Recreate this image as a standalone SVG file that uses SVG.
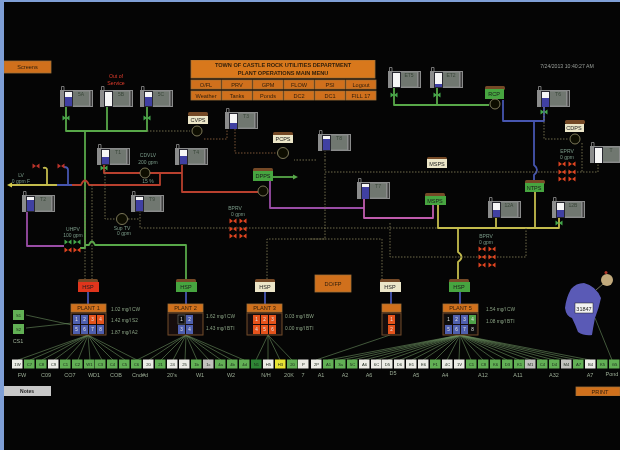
<svg xmlns="http://www.w3.org/2000/svg" width="620" height="450" viewBox="0 0 620 450">
<style>
text{font-family:"Liberation Sans",Arial,sans-serif}
.p{fill:none;stroke-width:1.8;stroke-linejoin:round}
.gr{stroke:#58a84a}.re{stroke:#b8402e}.pu{stroke:#9a4ea6}.ye{stroke:#c4bc4e}.bl{stroke:#4656b0}.pk{stroke:#c05cae}
.d{fill:none;stroke:#7d7952;stroke-width:.9;stroke-dasharray:1.5 1.5}
.dr{fill:none;stroke:#7a5436;stroke-width:1;stroke-dasharray:1.5 1.5}
.f{stroke:#6c9160;stroke-width:.6;fill:none}
.t{fill:#8b8c8c}.w{fill:#f6f6f6}.b{fill:#3f41a2}
.tl{font-size:5px;fill:#3a463a;text-anchor:middle}
.pg{fill:#46a53f}.pc{fill:#ece6c8}.pr{fill:#e0361e}.cap{fill:#744a28}
.pl{font-size:5.500px;fill:#1c1c1c;text-anchor:middle}
.or{fill:#d0701c;stroke:#a07038;stroke-width:.8}
.ol{font-size:5.600px;fill:#33200a;text-anchor:middle}
.lb{font-size:5px;fill:#7a9a88;text-anchor:middle}
.ml{font-size:4.800px;fill:#8aa284}
.bt{font-size:5.500px;fill:#9aab94;text-anchor:middle}
.sg{fill:#62b054}.sw{fill:#ecece6}.sd{fill:#2e8434}.sy{fill:#e8e434}.sq{fill:#c2c2be}
.st{font-size:4.200px;fill:#1d2a1d;text-anchor:middle}
.vr{fill:#de4420}.vg{fill:#45a84b}.vx{fill:#bc342a}
.c{fill:#0a0a05;stroke:#8a8660;stroke-width:.9}
.cell{font-size:4.600px;fill:#e2e2e2;text-anchor:middle}
.cb{fill:#505fae}.co{fill:#e5521c}.cg{fill:#4fa24a}.ck{fill:#0b0b0b}
.fr{fill:#15100c;stroke:#744a2a;stroke-width:1}
</style>
<defs>
<filter id="soft" x="0" y="0" width="100%" height="100%"><feGaussianBlur stdDeviation="0.45"/></filter>
<g id="tk"><path d="M1.500 0V-3.500h2.500v3.500" fill="none" stroke="#a0a0a0" stroke-width=".7"/><rect width="33" height="17" class="t"/><rect x="13" y="1.500" width="16" height="14" fill="#6f776f"/><rect x="30.500" y="1" width="1.500" height="15" fill="#3c3c3c"/><rect x="4" y="1" width="9" height="16" fill="#26262e"/></g>
<g id="vv"><path d="M-3.500 -2.500L0 0L-3.500 2.500ZM3.500 -2.500L0 0L3.500 2.500Z"/></g>
<g id="cap"><rect width="20" height="4" rx="1.500" class="cap"/></g>
</defs>
<rect width="620" height="450" fill="#050505"/>
<rect width="620" height="2" fill="#7f9fd6"/>
<rect width="4" height="450" fill="#7f9fd6"/>
<g filter="url(#soft)">
<g id="connectors">
<path class="p gr" d="M66 106V131H147V106M107 106V131M85 131V248H80"/>
<path class="p gr" d="M85 245H89Q92 238 95 245H186V279"/>
<path class="p gr" d="M394 87V105H489M437 87V105"/>
<path class="p gr" d="M273 177H294"/>
<path d="M293 174.500L298 177L293 179.500Z" fill="#58a84a"/>
<path class="p re" d="M104 164V173H182M182 164V192H258M160 173V185H89Q85 176 81 185H72"/>
<path class="p bl" d="M57 185H72M68 185V170Q68 167 64 167"/>
<path class="p ye" d="M11 185H57M47 185V170Q47 167 43 168"/>
<path d="M12 182.500L7 185L12 187.500Z" fill="#d4cb4c"/>
<path class="p pu" d="M270 181V208H364M27 211V246H64"/>
<path class="p pk" d="M364 199V218H433V205"/>
<path class="p ye" d="M438 205V228H559V217M496 217V228M535 192V228M458 228V252Q465 257 458 262V279"/>
<path class="p bl" d="M503 100V121H544V107M534 121V165Q540 170 534 175V180"/>
<path class="p bl" d="M88 292V304M186 292V304M265 292V304M391 292V304M460 292V304"/>
<path class="d" d="M147 131H190M85 185V279M92 185V279M267 279V239H325V172M325 160V172H598V163M310 239H382V279M140 211V228H437M390 223V257H526V228M544 107V139H569M582 143V172M105 164V219H115M128 219H140M316 160H294"/>
<path class="d" d="M325 150V160"/>
<path class="dr" d="M204 139H227V129M235 129V153H277"/>
<path class="f" d="M88 335L18 360M88 335L30 360M88 335L42 360M88 335L54 360M88 335L66 360M88 335L78 360M88 335L90 360M88 335L102 360M88 335L113 360M88 335L125 360M88 335L137 360"/>
<path class="f" d="M186 335L137 360M186 335L149 360M186 335L161 360M186 335L173 360M186 335L185 360M186 335L197 360M186 335L209 360M186 335L221 360M186 335L232 360M186 335L244 360"/>
<path class="f" d="M268 335L256 360M268 335L268 360M268 335L280 360M268 335L292 360"/>
<path class="f" d="M390 335L316 360"/>
<path class="f" d="M460 335L328 360M460 335L340 360M460 335L352 360M460 335L364 360M460 335L376 360M460 335L388 360M460 335L400 360M460 335L412 360M460 335L423 360M460 335L435 360M460 335L447 360M460 335L459 360M460 335L471 360M460 335L483 360M460 335L495 360M460 335L507 360M460 335L519 360M460 335L531 360M460 335L542 360M460 335L554 360M460 335L566 360M460 335L578 360M460 335L590 360M595 318L612 360"/>
<path class="f" d="M26 315L72 325M26 328L72 323"/>
</g>

<g id="screens"><rect x="4" y="61" width="47" height="12" class="or"/><text x="27.500" y="69" class="ol">Screens</text></g>
<g id="menu">
<rect x="191" y="60" width="184" height="18" fill="#d8781e" stroke="#a07038" stroke-width=".8"/>
<text x="283" y="67" class="ol" font-weight="bold">TOWN OF CASTLE ROCK UTILITIES DEPARTMENT</text>
<text x="283" y="75" class="ol" font-weight="bold">PLANT OPERATIONS MAIN MENU</text>
<rect x="191" y="80" width="30" height="9" class="or"/><text x="206" y="87" class="ol">O/FL</text>
<rect x="222" y="80" width="30" height="9" class="or"/><text x="237" y="87" class="ol">PRV</text>
<rect x="253" y="80" width="30" height="9" class="or"/><text x="268" y="87" class="ol">GPM</text>
<rect x="284" y="80" width="30" height="9" class="or"/><text x="299" y="87" class="ol">FLOW</text>
<rect x="315" y="80" width="30" height="9" class="or"/><text x="330" y="87" class="ol">PSI</text>
<rect x="346" y="80" width="30" height="9" class="or"/><text x="361" y="87" class="ol">Logout</text>
<rect x="191" y="91" width="30" height="9" class="or"/><text x="206" y="98" class="ol">Weather</text>
<rect x="222" y="91" width="30" height="9" class="or"/><text x="237" y="98" class="ol">Tanks</text>
<rect x="253" y="91" width="30" height="9" class="or"/><text x="268" y="98" class="ol">Ponds</text>
<rect x="284" y="91" width="30" height="9" class="or"/><text x="299" y="98" class="ol">DC2</text>
<rect x="315" y="91" width="30" height="9" class="or"/><text x="330" y="98" class="ol">DC1</text>
<rect x="346" y="91" width="30" height="9" class="or"/><text x="361" y="98" class="ol">FILL 17</text>
</g>
<text x="567" y="68" font-size="5.200" fill="#9a9f9a" text-anchor="middle">7/24/2013 10:40:27 AM</text>
<text x="116" y="78" font-size="5.200" fill="#e03c2c" text-anchor="middle">Out of</text>
<text x="116" y="85" font-size="5.200" fill="#e03c2c" text-anchor="middle">Service</text>

<g id="t5a"><use href="#tk" x="60" y="90"/><rect x="65" y="92" width="7" height="5" class="w"/><rect x="65" y="97" width="7" height="9" class="b"/><text x="81" y="96" class="tl">5A</text></g>
<g id="t5b"><use href="#tk" x="100" y="90"/><rect x="105" y="92" width="7" height="14" class="w"/><text x="121" y="96" class="tl">5B</text></g>
<g id="t5c"><use href="#tk" x="140" y="90"/><rect x="145" y="92" width="7" height="5" class="w"/><rect x="145" y="97" width="7" height="9" class="b"/><text x="161" y="96" class="tl">5C</text></g>
<g id="t1"><use href="#tk" x="97" y="148"/><rect x="102" y="150" width="7" height="7" class="w"/><rect x="102" y="157" width="7" height="7" class="b"/><text x="118" y="154" class="tl">T1</text></g>
<g id="t4"><use href="#tk" x="175" y="148"/><rect x="180" y="150" width="7" height="6" class="w"/><rect x="180" y="156" width="7" height="8" class="b"/><text x="196" y="154" class="tl">T4</text></g>
<g id="t3"><use href="#tk" x="225" y="112"/><rect x="230" y="114" width="7" height="9" class="w"/><rect x="230" y="123" width="7" height="6" class="b"/><text x="246" y="118" class="tl">T3</text></g>
<g id="t2"><use href="#tk" x="22" y="195"/><rect x="27" y="197" width="7" height="3" class="w"/><rect x="27" y="200" width="7" height="11" class="b"/><text x="43" y="201" class="tl">T2</text></g>
<g id="t9"><use href="#tk" x="131" y="195"/><rect x="136" y="197" width="7" height="3" class="w"/><rect x="136" y="200" width="7" height="11" class="b"/><text x="152" y="201" class="tl">T9</text></g>
<g id="et5"><use href="#tk" x="388" y="71"/><rect x="393" y="73" width="7" height="14" class="w"/><text x="409" y="77" class="tl">ET5</text></g>
<g id="et2"><use href="#tk" x="430" y="71"/><rect x="435" y="73" width="7" height="11" class="w"/><rect x="435" y="84" width="7" height="3" class="b"/><text x="451" y="77" class="tl">ET2</text></g>
<g id="t6"><use href="#tk" x="537" y="90"/><rect x="542" y="92" width="7" height="6" class="w"/><rect x="542" y="98" width="7" height="9" class="b"/><text x="558" y="96" class="tl">T6</text></g>
<g id="t8"><use href="#tk" x="318" y="134"/><rect x="323" y="136" width="7" height="3" class="w"/><rect x="323" y="139" width="7" height="11" class="b"/><text x="339" y="140" class="tl">T8</text></g>
<g id="t10"><use href="#tk" x="590" y="146"/><rect x="595" y="148" width="7" height="15" class="w"/><text x="611" y="152" class="tl">T</text></g>
<g id="t7"><use href="#tk" x="357" y="182"/><rect x="362" y="184" width="7" height="3" class="w"/><rect x="362" y="187" width="7" height="12" class="b"/><text x="378" y="188" class="tl">T7</text></g>
<g id="t12a"><use href="#tk" x="488" y="201"/><rect x="493" y="203" width="7" height="7" class="w"/><rect x="493" y="210" width="7" height="7" class="b"/><text x="509" y="207" class="tl">12A</text></g>
<g id="t12b"><use href="#tk" x="552" y="201"/><rect x="557" y="203" width="7" height="7" class="w"/><rect x="557" y="210" width="7" height="7" class="b"/><text x="573" y="207" class="tl">12B</text></g>

<g id="cvps"><use href="#cap" x="188" y="112"/><rect x="188" y="116" width="20" height="8" class="pc"/><text x="198" y="122" class="pl">CVPS</text><circle cx="197" cy="131" r="5" class="c"/></g>
<g id="pcps"><use href="#cap" x="273" y="132"/><rect x="273" y="135" width="20" height="8" class="pc"/><text x="283" y="141" class="pl">PCPS</text><circle cx="283" cy="153" r="5.500" class="c"/></g>
<g id="msps"><use href="#cap" x="427" y="157"/><rect x="427" y="159" width="20" height="9" class="pc"/><text x="437" y="166" class="pl">MSPS</text></g>
<g id="cdps"><use href="#cap" x="565" y="120"/><rect x="565" y="124" width="19" height="8" class="pc"/><text x="574" y="130" class="pl">CDPS</text><circle cx="575" cy="139" r="5" class="c"/></g>
<g id="dpps"><use href="#cap" x="253" y="168"/><rect x="253" y="171" width="20" height="10" class="pg"/><text x="263" y="178" class="pl">DPPS</text><circle cx="263" cy="191" r="5" class="c"/></g>
<g id="rcp"><use href="#cap" x="485" y="86"/><rect x="485" y="89" width="19" height="10" class="pg"/><text x="494" y="96" class="pl">RCP</text><circle cx="495" cy="104" r="5" class="c"/></g>
<g id="ntps"><use href="#cap" x="525" y="180"/><rect x="525" y="183" width="19" height="9" class="pg"/><text x="534" y="190" class="pl">NTPS</text></g>
<g id="msps2"><use href="#cap" x="425" y="193"/><rect x="425" y="196" width="21" height="9" class="pg"/><text x="435" y="203" class="pl">MSPS</text></g>
<g id="hsp1"><use href="#cap" x="78" y="279"/><rect x="78" y="282" width="21" height="10" class="pr"/><text x="88" y="289" class="pl">HSP</text></g>
<g id="hsp2"><use href="#cap" x="176" y="279"/><rect x="176" y="282" width="21" height="10" class="pg"/><text x="186" y="289" class="pl">HSP</text></g>
<g id="hsp3"><use href="#cap" x="255" y="279"/><rect x="255" y="282" width="20" height="10" class="pc"/><text x="265" y="289" class="pl">HSP</text></g>
<g id="hsp4"><use href="#cap" x="380" y="279"/><rect x="380" y="282" width="21" height="10" class="pc"/><text x="390" y="289" class="pl">HSP</text></g>
<g id="hsp5"><use href="#cap" x="449" y="279"/><rect x="449" y="282" width="21" height="10" class="pg"/><text x="459" y="289" class="pl">HSP</text></g>
<g id="dofp"><rect x="315" y="275" width="36" height="17" class="or"/><text x="333" y="286" class="ol">DO/FP</text></g>

<g id="valves">
<use href="#vv" x="66" y="118" class="vg"/><use href="#vv" x="147" y="118" class="vg"/><use href="#vv" x="104" y="168" class="vg"/>
<use href="#vv" x="394" y="95" class="vg"/><use href="#vv" x="437" y="95" class="vg"/><use href="#vv" x="544" y="112" class="vg"/><use href="#vv" x="559" y="223" class="vg"/>
<use href="#vv" x="36" y="166" class="vx"/><use href="#vv" x="61" y="166" class="vx"/>
<use href="#vv" x="68" y="242" class="vg"/><use href="#vv" x="77" y="242" class="vg"/><use href="#vv" x="68" y="250" class="vr"/><use href="#vv" x="77" y="250" class="vr"/>
<use href="#vv" x="233" y="221" class="vr"/><use href="#vv" x="243" y="221" class="vr"/><use href="#vv" x="233" y="229" class="vr"/><use href="#vv" x="243" y="229" class="vr"/><use href="#vv" x="233" y="236" class="vr"/><use href="#vv" x="243" y="236" class="vr"/>
<use href="#vv" x="482" y="249" class="vr"/><use href="#vv" x="492" y="249" class="vr"/><use href="#vv" x="482" y="257" class="vr"/><use href="#vv" x="492" y="257" class="vr"/><use href="#vv" x="482" y="265" class="vr"/><use href="#vv" x="492" y="265" class="vr"/>
<use href="#vv" x="562" y="164" class="vr"/><use href="#vv" x="572" y="164" class="vr"/><use href="#vv" x="562" y="172" class="vr"/><use href="#vv" x="572" y="172" class="vr"/><use href="#vv" x="562" y="179" class="vr"/><use href="#vv" x="572" y="179" class="vr"/>
<circle cx="145" cy="173" r="5" class="c"/><circle cx="122" cy="219" r="5.500" class="c"/>
</g>
<g id="labels">
<text x="21" y="177" class="lb">LV</text><text x="21" y="183" class="lb">0 gpm F</text>
<text x="148" y="157" class="lb">CDVLV</text><text x="148" y="164" class="lb">200 gpm</text><text x="148" y="183" class="lb">15 %</text>
<text x="73" y="231" class="lb">UHPV</text><text x="73" y="237" class="lb">100 gpm</text>
<text x="122" y="230" class="lb">Sup TV</text><text x="124" y="235" class="lb">0 gpm</text>
<text x="235" y="210" class="lb">BPRV</text><text x="238" y="216" class="lb">0 gpm</text>
<text x="486" y="238" class="lb">BPRV</text><text x="486" y="244" class="lb">0 gpm</text>
<text x="567" y="153" class="lb">EPRV</text><text x="567" y="159" class="lb">0 gpm</text>
</g>

<g id="plant1"><rect x="71" y="304" width="35" height="8" class="or"/><text x="88.500" y="310" class="ol">PLANT 1</text><rect x="71" y="313" width="35" height="22" class="fr"/>
<rect x="73" y="315" width="7" height="9" class="cb"/><rect x="81" y="315" width="7" height="9" class="cb"/><rect x="89" y="315" width="7" height="9" class="co"/><rect x="97" y="315" width="7" height="9" class="co"/>
<rect x="73" y="325" width="7" height="9" class="cb"/><rect x="81" y="325" width="7" height="9" class="cb"/><rect x="89" y="325" width="7" height="9" class="cb"/><rect x="97" y="325" width="7" height="9" class="cb"/>
<text x="76.500" y="321" class="cell">1</text><text x="84.500" y="321" class="cell">2</text><text x="92.500" y="321" class="cell">3</text><text x="100.500" y="321" class="cell">4</text><text x="76.500" y="331" class="cell">5</text><text x="84.500" y="331" class="cell">6</text><text x="92.500" y="331" class="cell">7</text><text x="100.500" y="331" class="cell">8</text></g>
<g id="plant2"><rect x="168" y="304" width="35" height="8" class="or"/><text x="185.500" y="310" class="ol">PLANT 2</text><rect x="168" y="313" width="35" height="22" class="fr"/>
<rect x="178" y="315" width="7" height="9" class="ck" stroke="#888" stroke-width=".5"/><rect x="186" y="315" width="7" height="9" class="cb"/><rect x="178" y="325" width="7" height="9" class="cb"/><rect x="186" y="325" width="7" height="9" class="cb"/>
<text x="181.500" y="321" class="cell">1</text><text x="189.500" y="321" class="cell">2</text><text x="181.500" y="331" class="cell">3</text><text x="189.500" y="331" class="cell">4</text></g>
<g id="plant3"><rect x="247" y="304" width="35" height="8" class="or"/><text x="264.500" y="310" class="ol">PLANT 3</text><rect x="247" y="313" width="35" height="22" class="fr"/>
<rect x="253" y="315" width="7" height="9" class="co"/><rect x="261" y="315" width="7" height="9" class="co"/><rect x="269" y="315" width="7" height="9" class="co"/><rect x="253" y="325" width="7" height="9" class="co"/><rect x="261" y="325" width="7" height="9" class="co"/><rect x="269" y="325" width="7" height="9" class="co"/>
<text x="256.500" y="321" class="cell">1</text><text x="264.500" y="321" class="cell">2</text><text x="272.500" y="321" class="cell">3</text><text x="256.500" y="331" class="cell">4</text><text x="264.500" y="331" class="cell">5</text><text x="272.500" y="331" class="cell">6</text></g>
<g id="plant4"><rect x="382" y="304" width="19" height="8" class="or"/><rect x="382" y="313" width="19" height="22" class="fr"/>
<rect x="388" y="315" width="7" height="9" class="co"/><rect x="388" y="325" width="7" height="9" class="co"/><text x="391.500" y="321" class="cell">1</text><text x="391.500" y="331" class="cell">2</text></g>
<g id="plant5"><rect x="443" y="304" width="35" height="8" class="or"/><text x="460.500" y="310" class="ol">PLANT 5</text><rect x="443" y="313" width="35" height="22" class="fr"/>
<rect x="445" y="315" width="7" height="9" class="ck"/><rect x="453" y="315" width="7" height="9" class="cb"/><rect x="461" y="315" width="7" height="9" class="cb"/><rect x="469" y="315" width="7" height="9" class="cg"/>
<rect x="445" y="325" width="7" height="9" class="cb"/><rect x="453" y="325" width="7" height="9" class="cb"/><rect x="461" y="325" width="7" height="9" class="cb"/><rect x="469" y="325" width="7" height="9" class="ck"/>
<text x="448.500" y="321" class="cell">1</text><text x="456.500" y="321" class="cell">2</text><text x="464.500" y="321" class="cell">3</text><text x="472.500" y="321" class="cell">4</text><text x="448.500" y="331" class="cell">5</text><text x="456.500" y="331" class="cell">6</text><text x="464.500" y="331" class="cell">7</text><text x="472.500" y="331" class="cell">8</text></g>
<g id="readings">
<text x="111" y="311" class="ml">1.02 mg/l CW</text><text x="111" y="322" class="ml">1.42 mg/l S2</text><text x="111" y="334" class="ml">1.87 mg/l A2</text>
<text x="206" y="318" class="ml">1.62 mg/l CW</text><text x="206" y="330" class="ml">1.43 mg/l BTI</text>
<text x="285" y="318" class="ml">0.03 mg/l BW</text><text x="285" y="330" class="ml">0.00 mg/l BTI</text>
<text x="486" y="311" class="ml">1.54 mg/l CW</text><text x="486" y="323" class="ml">1.08 mg/l BTI</text>
</g>
<g id="cs1"><rect x="13" y="310" width="11" height="10" class="sg"/><text x="18.500" y="317" class="st">S1</text><rect x="13" y="324" width="11" height="10" class="sg"/><text x="18.500" y="331" class="st">S2</text><text x="18" y="343" class="bt">CS1</text></g>

<g id="wells">
<rect x="12" y="359.500" width="10.500" height="9" class="sw"/><text x="17.500" y="366" class="st">1W</text>
<rect x="24" y="359.500" width="10.500" height="9" class="sg"/><text x="29.500" y="366" class="st">C7</text>
<rect x="36" y="359.500" width="10.500" height="9" class="sg"/><text x="41.500" y="366" class="st">C8</text>
<rect x="48" y="359.500" width="10.500" height="9" class="sw"/><text x="53.500" y="366" class="st">C9</text>
<rect x="60" y="359.500" width="10.500" height="9" class="sg"/><text x="65.500" y="366" class="st">C1</text>
<rect x="72" y="359.500" width="10.500" height="9" class="sg"/><text x="77.500" y="366" class="st">C2</text>
<rect x="84" y="359.500" width="10.500" height="9" class="sg"/><text x="89.500" y="366" class="st">W1</text>
<rect x="95" y="359.500" width="10.500" height="9" class="sg"/><text x="100.500" y="366" class="st">C3</text>
<rect x="107" y="359.500" width="10.500" height="9" class="sg"/><text x="112.500" y="366" class="st">C4</text>
<rect x="119" y="359.500" width="10.500" height="9" class="sg"/><text x="124.500" y="366" class="st">C5</text>
<rect x="131" y="359.500" width="10.500" height="9" class="sg"/><text x="136.500" y="366" class="st">C6</text>
<rect x="143" y="359.500" width="10.500" height="9" class="sw"/><text x="148.500" y="366" class="st">20</text>
<rect x="155" y="359.500" width="10.500" height="9" class="sg"/><text x="160.500" y="366" class="st">21</text>
<rect x="167" y="359.500" width="10.500" height="9" class="sw"/><text x="172.500" y="366" class="st">24</text>
<rect x="179" y="359.500" width="10.500" height="9" class="sw"/><text x="184.500" y="366" class="st">25</text>
<rect x="191" y="359.500" width="10.500" height="9" class="sg"/><text x="196.500" y="366" class="st">1b</text>
<rect x="203" y="359.500" width="10.500" height="9" class="sq"/><text x="208.500" y="366" class="st">1c</text>
<rect x="215" y="359.500" width="10.500" height="9" class="sg"/><text x="220.500" y="366" class="st">4a</text>
<rect x="227" y="359.500" width="10.500" height="9" class="sg"/><text x="232.500" y="366" class="st">4b</text>
<rect x="239" y="359.500" width="10.500" height="9" class="sg"/><text x="244.500" y="366" class="st">4d</text>
<rect x="251" y="359.500" width="10.500" height="9" class="sd"/><text x="256.500" y="366" class="st">N1</text>
<rect x="263" y="359.500" width="10.500" height="9" class="sw"/><text x="268.500" y="366" class="st">H5</text>
<rect x="275" y="359.500" width="10.500" height="9" class="sy"/><text x="280.500" y="366" class="st">H3</text>
<rect x="287" y="359.500" width="10.500" height="9" class="sg"/><text x="292.500" y="366" class="st">20</text>
<rect x="298" y="359.500" width="10.500" height="9" class="sw"/><text x="303.500" y="366" class="st">P</text>
<rect x="311" y="359.500" width="10.500" height="9" class="sw"/><text x="316.500" y="366" class="st">2P</text>
<rect x="323" y="359.500" width="10.500" height="9" class="sg"/><text x="328.500" y="366" class="st">A1</text>
<rect x="335" y="359.500" width="10.500" height="9" class="sg"/><text x="340.500" y="366" class="st">3a</text>
<rect x="347" y="359.500" width="10.500" height="9" class="sg"/><text x="352.500" y="366" class="st">5C</text>
<rect x="359" y="359.500" width="10.500" height="9" class="sw"/><text x="364.500" y="366" class="st">A6</text>
<rect x="371" y="359.500" width="10.500" height="9" class="sw"/><text x="376.500" y="366" class="st">6C</text>
<rect x="382" y="359.500" width="10.500" height="9" class="sw"/><text x="387.500" y="366" class="st">D5</text>
<rect x="394" y="359.500" width="10.500" height="9" class="sw"/><text x="399.500" y="366" class="st">D6</text>
<rect x="406" y="359.500" width="10.500" height="9" class="sw"/><text x="411.500" y="366" class="st">E1</text>
<rect x="418" y="359.500" width="10.500" height="9" class="sw"/><text x="423.500" y="366" class="st">E6</text>
<rect x="430" y="359.500" width="10.500" height="9" class="sg"/><text x="435.500" y="366" class="st">F1</text>
<rect x="442" y="359.500" width="10.500" height="9" class="sw"/><text x="447.500" y="366" class="st">4C</text>
<rect x="454" y="359.500" width="10.500" height="9" class="sw"/><text x="459.500" y="366" class="st">1V</text>
<rect x="466" y="359.500" width="10.500" height="9" class="sg"/><text x="471.500" y="366" class="st">C1</text>
<rect x="478" y="359.500" width="10.500" height="9" class="sg"/><text x="483.500" y="366" class="st">C8</text>
<rect x="490" y="359.500" width="10.500" height="9" class="sg"/><text x="495.500" y="366" class="st">K6</text>
<rect x="502" y="359.500" width="10.500" height="9" class="sg"/><text x="507.500" y="366" class="st">D3</text>
<rect x="514" y="359.500" width="10.500" height="9" class="sg"/><text x="519.500" y="366" class="st">K1</text>
<rect x="525" y="359.500" width="10.500" height="9" class="sq"/><text x="530.500" y="366" class="st">M1</text>
<rect x="537" y="359.500" width="10.500" height="9" class="sg"/><text x="542.500" y="366" class="st">C4</text>
<rect x="549" y="359.500" width="10.500" height="9" class="sg"/><text x="554.500" y="366" class="st">D4</text>
<rect x="561" y="359.500" width="10.500" height="9" class="sq"/><text x="566.500" y="366" class="st">M4</text>
<rect x="573" y="359.500" width="10.500" height="9" class="sg"/><text x="578.500" y="366" class="st">A7</text>
<rect x="585" y="359.500" width="10.500" height="9" class="sw"/><text x="590.500" y="366" class="st">B4</text>
<rect x="597" y="359.500" width="10.500" height="9" class="sg"/><text x="602.500" y="366" class="st">K5</text>
<rect x="609" y="359.500" width="10.500" height="9" class="sg"/><text x="614.500" y="366" class="st">G5</text>
</g>
<g id="well-labels">
<text x="22" y="377" class="bt">FW</text><text x="46" y="377" class="bt">C09</text><text x="70" y="377" class="bt">CO7</text><text x="94" y="377" class="bt">WD1</text><text x="116" y="377" class="bt">COB</text><text x="140" y="377" class="bt">Cnd#d</text><text x="172" y="377" class="bt">20's</text><text x="200" y="377" class="bt">W1</text><text x="231" y="377" class="bt">W2</text><text x="266" y="377" class="bt">N/H</text><text x="289" y="377" class="bt">20K</text><text x="303" y="377" class="bt">7</text>
<text x="321" y="377" class="bt">A1</text><text x="345" y="377" class="bt">A2</text><text x="369" y="377" class="bt">A6</text><text x="393" y="375" class="bt">D5</text><text x="416" y="377" class="bt">A5</text><text x="445" y="377" class="bt">A4</text><text x="483" y="377" class="bt">A12</text><text x="518" y="377" class="bt">A11</text><text x="554" y="377" class="bt">A32</text><text x="590" y="377" class="bt">A7</text><text x="612" y="376" class="bt">Pond</text>
</g>
<g id="notes"><rect x="4" y="386" width="47" height="10" fill="#c8c8c8"/><text x="27" y="393" font-size="5" fill="#222" text-anchor="middle" font-weight="bold">Notes</text></g>
<g id="print"><rect x="576" y="387" width="44" height="9" class="or"/><text x="600" y="394" class="ol">PRINT</text></g>
<g id="lake">
<path d="M571 289Q576 283 584 283Q596 286 601 298Q599 308 595 318Q593 328 592 335Q584 336 578 332Q575 324 572 318Q566 316 565 308Q566 298 571 289Z" fill="#5a5ab6"/>
<rect x="575" y="303" width="18" height="10" fill="#f2f2f2" stroke="#222" stroke-width=".5"/><text x="584" y="310.500" font-size="5.500" fill="#222" text-anchor="middle">31847</text>
<path d="M596 290L603 284" stroke="#8a8a6a" stroke-width=".8"/>
<circle cx="607" cy="280" r="6" fill="#c2aa7c"/><circle cx="606" cy="272.500" r="1.500" fill="#b5392a"/>
</g>
</g>
</svg>
